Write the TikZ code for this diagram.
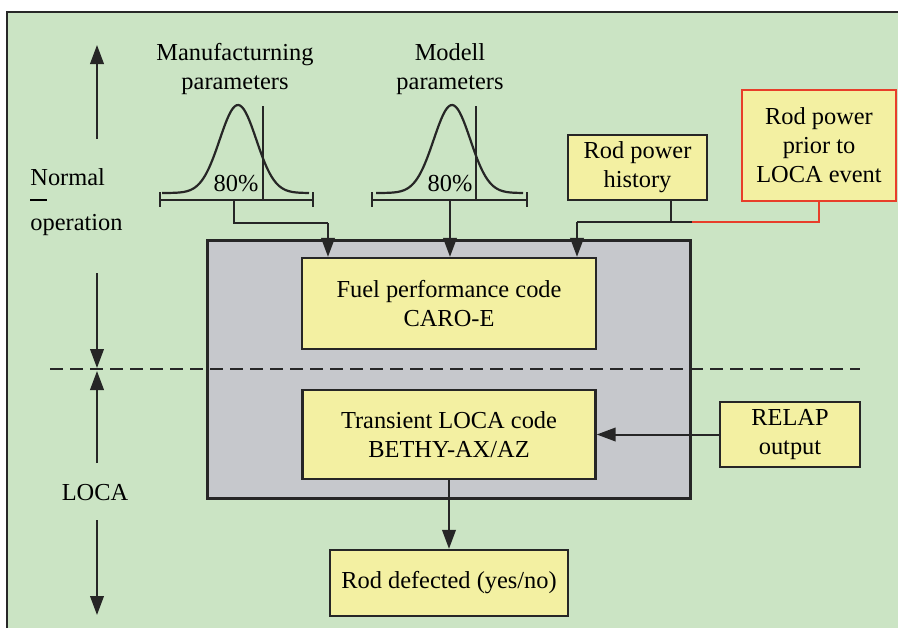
\documentclass[tikz,border=0pt]{standalone}
\usepackage{fontspec}
\setmainfont{Liberation Serif}
\usetikzlibrary{arrows.meta}
\definecolor{bggreen}{RGB}{203,228,196}
\definecolor{boxgray}{RGB}{198,200,204}
\definecolor{boxyellow}{RGB}{243,240,162}
\definecolor{framegray}{RGB}{40,40,40}
\definecolor{redline}{RGB}{232,62,42}
\tikzset{
  txt/.style={font=\fontsize{12.2}{14.5}\selectfont, align=center, inner sep=0pt},
  ybox/.style={txt, draw=black!85, line width=1.2pt, fill=boxyellow},
  arr/.style={line width=1pt, draw=black!85, -{Triangle[length=9.5pt,width=6.8pt]}},
  conn/.style={line width=1pt, draw=black!85},
  bell/.style={line width=1.1pt, draw=black!85},
}
\begin{document}
\begin{tikzpicture}[x=0.5pt,y=-0.5pt]
\useasboundingbox (0,0) rectangle (898,628);
% background frame
\fill[white] (0,0) rectangle (898,628);
\fill[bggreen] (7,12) rectangle (898,628);
\draw[framegray, line width=1.3pt] (7,628) -- (7,12) -- (898,12);

% gray container
\node[draw=black!85, line width=1.5pt, fill=boxgray, minimum width=241.5pt, minimum height=129pt, inner sep=0pt] (gray) at (448.5,369) {};

% dashed separator
\coordinate (dl) at (50,369);
\coordinate (dr) at (860,369);
\draw[line width=1pt, black!85, dash pattern=on 6.5pt off 3.5pt] (dl) -- (dr);

% boxes
\node[ybox, minimum width=147pt, minimum height=45.5pt] (fuel) at (449,303.5) {Fuel performance code\\CARO-E};
\node[ybox, minimum width=146.5pt, minimum height=44.5pt] (trans) at (449,434.5) {Transient LOCA code\\BETHY-AX/AZ};
\node[ybox, minimum width=70pt, minimum height=32.5pt] (relap) at (790,434.5) {RELAP\\output};
\node[ybox, minimum width=119pt, minimum height=33pt] (defect) at (449,583) {Rod defected (yes/no)};
\node[ybox, minimum width=69.5pt, minimum height=32.5pt] (hist) at (637.5,167.5) {Rod power\\history};
\node[ybox, draw=redline, minimum width=77pt, minimum height=55.5pt] (prior) at (819,145.5) {Rod power\\prior to\\LOCA event};

% parameter labels
\node[txt] (manu) at (235,69) {Manufacturning\\parameters};
\node[txt] (modell) at (450,69) {Modell\\parameters};

% bell curves
\draw[bell] plot[domain=162:309, samples=80] (\x, {193-88*exp(-0.5*((\x-238)/18.3)^2)});
\draw[bell] (263,106) -- (263,200);
\draw[bell] (160,200) -- (313,200);
\draw[bell] (160,192) -- (160,207);
\draw[bell] (313,192) -- (313,207);
\node[txt] (p1) at (236,184) {80\%};

\draw[bell] plot[domain=376:523, samples=80] (\x, {193-88*exp(-0.5*((\x-452)/18.3)^2)});
\draw[bell] (476,106) -- (476,200);
\draw[bell] (372,200) -- (527,200);
\draw[bell] (372,192) -- (372,207);
\draw[bell] (527,192) -- (527,207);
\node[txt] (p2) at (450,184) {80\%};

% connectors into fuel code
\coordinate (m1) at (234,200);
\coordinate (c1) at (328,223);
\draw[conn] (m1) |- (c1);
\draw[arr] (c1) -- (c1 |- fuel.north);
\coordinate (m2) at (450,200);
\draw[arr] (m2) -- (m2 |- fuel.north);

\coordinate (h1) at (671,200);
\coordinate (h2) at (671,222);
\coordinate (j1) at (692,222);
\coordinate (c3) at (577,222);
\draw[conn] (h1) -- (h2);
\draw[conn] (j1) -- (c3);
\draw[arr] (c3) -- (c3 |- fuel.north);
\draw[line width=1pt, redline] (prior.south) |- (j1);

% RELAP -> transient, transient -> defect
\draw[arr] (relap.west) -- (trans.east);
\draw[arr] (trans.south) -- (defect.north);

% phase labels and arrows
\node[txt, align=left, anchor=west, font=\fontsize{12.2}{11.3}\selectfont] (normal) at (30,202) {Normal\\\rule[0.3em]{8.5pt}{0.6pt}\\operation};
\node[txt] (loca) at (95,493) {LOCA};
\coordinate (a1) at (97,139);
\coordinate (a2) at (97,45);
\coordinate (a3) at (97,273);
\coordinate (a4) at (97,368);
\coordinate (a5) at (97,463);
\coordinate (a6) at (97,371);
\coordinate (a7) at (97,520);
\coordinate (a8) at (97,615);
\draw[arr] (a1) -- (a2);
\draw[arr] (a3) -- (a4);
\draw[arr] (a5) -- (a6);
\draw[arr] (a7) -- (a8);
\end{tikzpicture}
\end{document}
